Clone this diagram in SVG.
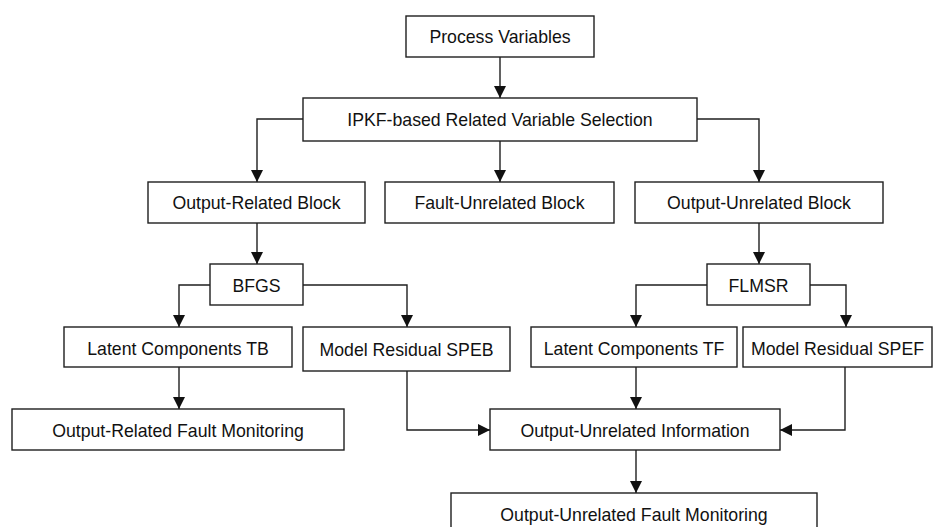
<svg xmlns="http://www.w3.org/2000/svg" width="933" height="527" viewBox="0 0 933 527">
<style>
.box{fill:#fff;stroke:#1f1f1f;stroke-width:1.4}
.lbl{font-family:"Liberation Sans",Arial,sans-serif;font-size:17.7px;fill:#111;text-anchor:middle}
.con{fill:none;stroke:#1f1f1f;stroke-width:1.4}
</style>
<defs>
<marker id="ah" markerUnits="userSpaceOnUse" markerWidth="12" markerHeight="12" refX="12" refY="6" orient="auto">
<path d="M0,0 L12,6 L0,12 z" fill="#111"/>
</marker>
</defs>
<rect width="933" height="527" fill="#fff"/>
<g id="connectors">
<path class="con" d="M500,57 V98" marker-end="url(#ah)"/>
<path class="con" d="M500,141 V182" marker-end="url(#ah)"/>
<path class="con" d="M303,119 H257 V182" marker-end="url(#ah)"/>
<path class="con" d="M697,119 H759 V182" marker-end="url(#ah)"/>
<path class="con" d="M257,223 V264" marker-end="url(#ah)"/>
<path class="con" d="M759,223 V264" marker-end="url(#ah)"/>
<path class="con" d="M210,285 H179 V327" marker-end="url(#ah)"/>
<path class="con" d="M303,285 H407 V327" marker-end="url(#ah)"/>
<path class="con" d="M707,285 H636 V327" marker-end="url(#ah)"/>
<path class="con" d="M810,285 H846 V327" marker-end="url(#ah)"/>
<path class="con" d="M179,367 V409" marker-end="url(#ah)"/>
<path class="con" d="M407,371 V430 H490" marker-end="url(#ah)"/>
<path class="con" d="M636,367 V409" marker-end="url(#ah)"/>
<path class="con" d="M845,367 V430 H780" marker-end="url(#ah)"/>
<path class="con" d="M636,450 V493" marker-end="url(#ah)"/>
</g>
<g id="n-process-variables"><rect class="box" x="406" y="16" width="188" height="41"/><text class="lbl" x="500" y="43">Process Variables</text></g>
<g id="n-ipkf"><rect class="box" x="303" y="98" width="394" height="43"/><text class="lbl" x="500" y="126">IPKF-based Related Variable Selection</text></g>
<g id="n-output-related-block"><rect class="box" x="148" y="182" width="217" height="41"/><text class="lbl" x="256.5" y="209">Output-Related Block</text></g>
<g id="n-fault-unrelated-block"><rect class="box" x="385" y="182" width="229" height="41"/><text class="lbl" x="499.5" y="209">Fault-Unrelated Block</text></g>
<g id="n-output-unrelated-block"><rect class="box" x="635" y="182" width="248" height="41"/><text class="lbl" x="759" y="209">Output-Unrelated Block</text></g>
<g id="n-bfgs"><rect class="box" x="210" y="264" width="93" height="41"/><text class="lbl" x="256.5" y="291.5">BFGS</text></g>
<g id="n-flmsr"><rect class="box" x="707" y="264" width="103" height="41"/><text class="lbl" x="758.5" y="291.5">FLMSR</text></g>
<g id="n-latent-tb"><rect class="box" x="64" y="327" width="228" height="40"/><text class="lbl" x="178" y="355">Latent Components TB</text></g>
<g id="n-model-speb"><rect class="box" x="303" y="327" width="207" height="44"/><text class="lbl" x="406.5" y="356">Model Residual SPEB</text></g>
<g id="n-latent-tf"><rect class="box" x="531" y="327" width="206" height="40"/><text class="lbl" x="634" y="355">Latent Components TF</text></g>
<g id="n-model-spef"><rect class="box" x="743" y="327" width="189" height="40"/><text class="lbl" x="837.5" y="355">Model Residual SPEF</text></g>
<g id="n-output-related-fault-monitoring"><rect class="box" x="12" y="409" width="332" height="41"/><text class="lbl" x="178" y="437">Output-Related Fault Monitoring</text></g>
<g id="n-output-unrelated-information"><rect class="box" x="490" y="409" width="290" height="41"/><text class="lbl" x="635" y="437">Output-Unrelated Information</text></g>
<g id="n-output-unrelated-fault-monitoring"><rect class="box" x="451" y="493" width="366" height="56"/><text class="lbl" x="634" y="521">Output-Unrelated Fault Monitoring</text></g>
</svg>
